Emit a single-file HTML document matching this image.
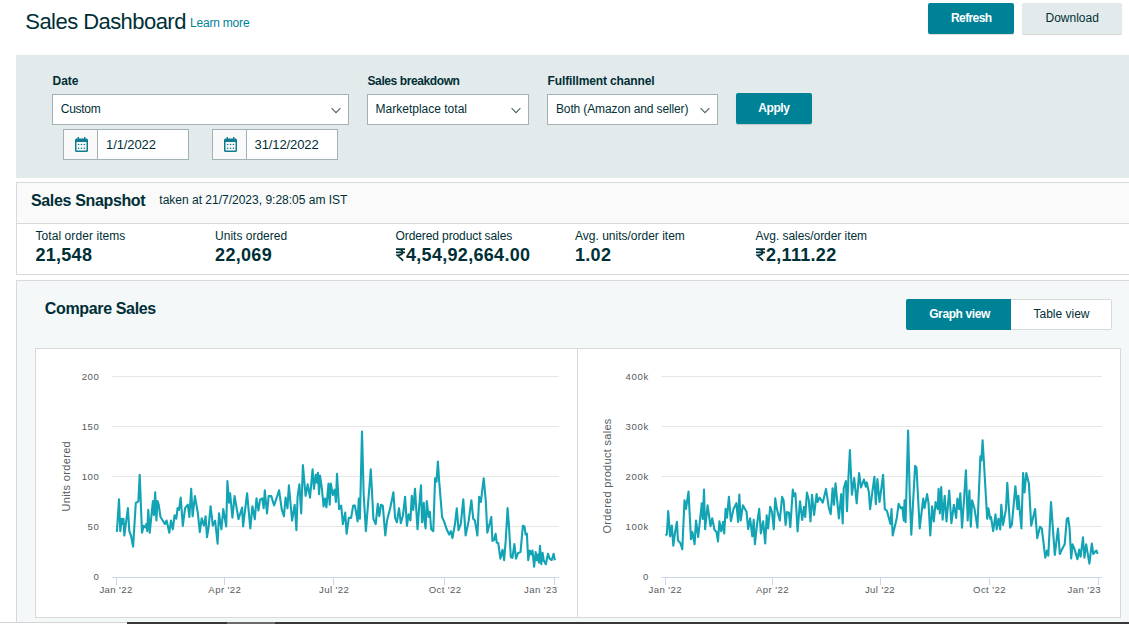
<!DOCTYPE html>
<html><head><meta charset="utf-8">
<style>
html,body{margin:0;padding:0;}
body{width:1129px;height:624px;overflow:hidden;position:relative;background:#fff;font-family:"Liberation Sans",sans-serif;color:#002f36;}
.a{position:absolute;}
.t{position:absolute;white-space:nowrap;line-height:1;}
.b{font-weight:bold;}
.box{position:absolute;box-sizing:border-box;}
.sel{position:absolute;box-sizing:border-box;background:#fff;border:1px solid #a2b1b5;}
.chev{position:absolute;width:5.2px;height:5.2px;border-right:1.1px solid #53676c;border-bottom:1.1px solid #53676c;transform:rotate(45deg);}
.btn{position:absolute;box-sizing:border-box;background:#008296;border-radius:2px;}
.ax{font-size:9.6px;color:#555c5e;letter-spacing:0.65px;}
.yl{width:60px;text-align:right;}

.xl{width:80px;text-align:center;letter-spacing:0.4px;}
</style></head>
<body>
<!-- header -->
<div class="t" style="left:25.3px;top:10.7px;font-size:22px;letter-spacing:-0.55px;">Sales Dashboard</div>
<div class="t" style="left:190px;top:16.7px;font-size:12px;letter-spacing:-0.2px;color:#008296;">Learn more</div>
<div class="btn" style="left:928px;top:3px;width:86px;height:31px;box-shadow:0 1px 1px rgba(0,0,0,0.15);"></div>
<div class="t b" style="left:951px;top:12px;font-size:12px;letter-spacing:-0.6px;color:#fff;">Refresh</div>
<div class="box" style="left:1022px;top:3px;width:100px;height:31px;background:#e3eaeb;border-radius:2px;box-shadow:0 1px 1px rgba(0,0,0,0.18);"></div>
<div class="t" style="left:1045.5px;top:12px;font-size:12px;">Download</div>

<!-- filter panel -->
<div class="box" style="left:16px;top:55px;width:1113px;height:123px;background:#e3eaeb;"></div>
<div class="t b" style="left:52.5px;top:75px;font-size:12px;">Date</div>
<div class="t b" style="left:367.5px;top:75px;font-size:12px;letter-spacing:-0.4px;">Sales breakdown</div>
<div class="t b" style="left:547.5px;top:75px;font-size:12px;letter-spacing:-0.12px;">Fulfillment channel</div>

<div class="sel" style="left:52px;top:94px;width:297px;height:31px;"></div>
<div class="t" style="left:60.8px;top:102.5px;font-size:12px;letter-spacing:-0.3px;">Custom</div>
<svg class="a" style="left:331.1px;top:106px;" width="11" height="9" viewBox="0 0 11 9"><path d="M0.6,2.2 L5,6.6 L9.4,2.2" fill="none" stroke="#4d6065" stroke-width="1.1"/></svg>

<div class="sel" style="left:367px;top:94px;width:162px;height:31px;"></div>
<div class="t" style="left:375.6px;top:102.5px;font-size:12px;">Marketplace total</div>
<svg class="a" style="left:511.4px;top:106px;" width="11" height="9" viewBox="0 0 11 9"><path d="M0.6,2.2 L5,6.6 L9.4,2.2" fill="none" stroke="#4d6065" stroke-width="1.1"/></svg>

<div class="sel" style="left:547px;top:94px;width:171px;height:31px;"></div>
<div class="t" style="left:556px;top:102.5px;font-size:12px;letter-spacing:-0.13px;">Both (Amazon and seller)</div>
<svg class="a" style="left:700.1px;top:106px;" width="11" height="9" viewBox="0 0 11 9"><path d="M0.6,2.2 L5,6.6 L9.4,2.2" fill="none" stroke="#4d6065" stroke-width="1.1"/></svg>

<div class="btn" style="left:736px;top:93px;width:76px;height:31px;box-shadow:0 1px 1px rgba(0,0,0,0.15);"></div>
<div class="t b" style="left:758.3px;top:102.4px;font-size:12px;letter-spacing:-0.45px;color:#fff;">Apply</div>

<!-- date inputs -->
<div class="sel" style="left:63px;top:129px;width:126px;height:31px;"></div>
<div class="a" style="left:64px;top:130px;width:33px;height:29px;background:#f9f9f9;border-right:1px solid #a2b1b5;"></div>
<svg class="a" style="left:74px;top:136px;" width="15" height="17" viewBox="0 0 15 17">
 <rect x="1" y="2.5" width="13" height="13.5" rx="1.5" fill="#0f7b91"/>
 <rect x="2.5" y="6" width="10" height="8.5" fill="#f9f9f9"/>
 <rect x="3.6" y="1" width="1.4" height="3" fill="#0f7b91"/><rect x="10" y="1" width="1.4" height="3" fill="#0f7b91"/>
 <g fill="#0f7b91"><circle cx="4.6" cy="8.5" r="0.8"/><circle cx="7.5" cy="8.5" r="0.8"/><circle cx="10.4" cy="8.5" r="0.8"/><circle cx="4.6" cy="12.2" r="0.8"/><circle cx="7.5" cy="12.2" r="0.8"/><circle cx="10.4" cy="12.2" r="0.8"/></g>
</svg>
<div class="t" style="left:106px;top:138px;font-size:13px;letter-spacing:-0.1px;">1/1/2022</div>

<div class="sel" style="left:212px;top:129px;width:126px;height:31px;"></div>
<div class="a" style="left:213px;top:130px;width:33px;height:29px;background:#f9f9f9;border-right:1px solid #a2b1b5;"></div>
<svg class="a" style="left:223px;top:136px;" width="15" height="17" viewBox="0 0 15 17">
 <rect x="1" y="2.5" width="13" height="13.5" rx="1.5" fill="#0f7b91"/>
 <rect x="2.5" y="6" width="10" height="8.5" fill="#f9f9f9"/>
 <rect x="3.6" y="1" width="1.4" height="3" fill="#0f7b91"/><rect x="10" y="1" width="1.4" height="3" fill="#0f7b91"/>
 <g fill="#0f7b91"><circle cx="4.6" cy="8.5" r="0.8"/><circle cx="7.5" cy="8.5" r="0.8"/><circle cx="10.4" cy="8.5" r="0.8"/><circle cx="4.6" cy="12.2" r="0.8"/><circle cx="7.5" cy="12.2" r="0.8"/><circle cx="10.4" cy="12.2" r="0.8"/></g>
</svg>
<div class="t" style="left:254.5px;top:138px;font-size:13px;letter-spacing:-0.1px;">31/12/2022</div>

<!-- snapshot -->
<div class="box" style="left:16px;top:182px;width:1120px;height:93px;border:1px solid #d9d9d9;background:#fff;"></div>
<div class="box" style="left:17px;top:183px;width:1120px;height:41px;background:#fafafa;border-bottom:1px solid #d9d9d9;"></div>
<div class="t b" style="left:31px;top:192.8px;font-size:16px;letter-spacing:-0.35px;">Sales Snapshot</div>
<div class="t" style="left:159.3px;top:193.9px;font-size:12px;">taken at 21/7/2023, 9:28:05 am IST</div>

<div class="t" style="left:35.4px;top:229.8px;font-size:12px;letter-spacing:0.08px;">Total order items</div>
<div class="t b" style="left:35.4px;top:245.5px;font-size:18px;letter-spacing:0.3px;">21,548</div>
<div class="t" style="left:215.1px;top:229.8px;font-size:12px;">Units ordered</div>
<div class="t b" style="left:215.1px;top:245.5px;font-size:18px;letter-spacing:0.3px;">22,069</div>
<div class="t" style="left:395.5px;top:229.8px;font-size:12px;letter-spacing:-0.1px;">Ordered product sales</div>
<div class="t" style="left:575px;top:229.8px;font-size:12px;">Avg. units/order item</div>
<div class="t b" style="left:575px;top:245.5px;font-size:18px;letter-spacing:0.3px;">1.02</div>
<div class="t" style="left:755.6px;top:229.8px;font-size:12px;letter-spacing:-0.05px;">Avg. sales/order item</div>
<!-- rupee values -->
<svg class="a" style="left:396px;top:248px;" width="10" height="13" viewBox="0 0 10 13"><path d="M0,1.2H9M0,4.3H9M1.6,1.2C5.5,1.2 6.6,2.4 6.6,4.3C6.6,6.3 4.8,7.3 1.2,7.3L7.2,12.6" fill="none" stroke="#002f36" stroke-width="1.7"/></svg>
<div class="t b" style="left:406px;top:245.5px;font-size:18px;letter-spacing:0.3px;">4,54,92,664.00</div>
<svg class="a" style="left:756px;top:248px;" width="10" height="13" viewBox="0 0 10 13"><path d="M0,1.2H9M0,4.3H9M1.6,1.2C5.5,1.2 6.6,2.4 6.6,4.3C6.6,6.3 4.8,7.3 1.2,7.3L7.2,12.6" fill="none" stroke="#002f36" stroke-width="1.7"/></svg>
<div class="t b" style="left:766px;top:245.5px;font-size:18px;letter-spacing:0.3px;">2,111.22</div>

<!-- compare sales -->
<div class="box" style="left:16px;top:280px;width:1120px;height:342px;border:1px solid #d9d9d9;border-bottom:none;background:#f5f8f9;"></div>
<div class="t b" style="left:44.8px;top:300.6px;font-size:16px;letter-spacing:-0.35px;">Compare Sales</div>
<div class="btn" style="left:906px;top:299px;width:105px;height:31px;border-radius:2px 0 0 2px;"></div>
<div class="t b" style="left:929.2px;top:308px;font-size:12px;letter-spacing:-0.4px;color:#fff;">Graph view</div>
<div class="box" style="left:1011px;top:299px;width:101px;height:31px;background:#fff;border:1px solid #d5dbdb;border-left:none;border-radius:0 2px 2px 0;"></div>
<div class="t" style="left:1033.5px;top:308px;font-size:12px;">Table view</div>

<div class="box" style="left:35px;top:348px;width:1086px;height:270px;border:1px solid #d9d9d9;background:#fff;"></div>
<div class="a" style="left:577px;top:349px;width:1px;height:268px;background:#d9d9d9;"></div>

<svg id="charts" class="a" style="left:0;top:0;" width="1129" height="624" viewBox="0 0 1129 624">
 <g stroke="#e6e6e6" stroke-width="1">
  <path d="M112.5,376.5H559M112.5,426.5H559M112.5,476.5H559M112.5,526.5H559"/>
  <path d="M661.5,376.5H1102M661.5,426.5H1102M661.5,476.5H1102M661.5,526.5H1102"/>
 </g>
 <g stroke="#ccd6eb" stroke-width="1">
  <path d="M112.5,577.5H559M661.5,577.5H1102"/>
  <path d="M116.5,577V585M224.5,577V585M333.5,577V585M444.5,577V585M554.5,577V585"/>
  <path d="M665.5,577V585M772.5,577V585M880.5,577V585M989.5,577V585M1098.5,577V585"/>
 </g>
 <g id="lines" fill="none" stroke="#12a3b4" stroke-width="2.1" stroke-linejoin="round">
<path d="M116.9,531.9 L119.0,499.3 L120.3,531.1 L121.7,518.7 L122.6,524.0 L123.5,518.7 L124.3,535.5 L127.9,508.1 L129.3,531.1 L131.0,535.5 L133.1,546.6 L135.8,502.9 L137.6,502.0 L138.4,501.1 L139.7,474.7 L142.0,532.8 L143.7,525.8 L145.5,527.5 L146.4,524.0 L147.2,531.1 L148.3,509.9 L149.7,532.8 L152.9,501.1 L153.9,515.2 L155.2,492.3 L156.4,520.5 L157.5,501.1 L158.7,504.6 L160.5,517.0 L164.9,524.0 L166.6,520.5 L169.3,532.8 L171.0,520.5 L172.8,529.3 L174.6,515.2 L176.3,518.7 L177.6,508.1 L179.0,509.9 L180.7,497.6 L182.8,525.8 L185.1,508.1 L187.8,504.6 L189.4,517.0 L191.2,488.9 L192.6,516.3 L194.9,496.1 L197.8,512.7 L199.8,532.1 L201.7,518.4 L203.9,525.6 L205.6,516.3 L207.0,537.2 L208.6,527.1 L210.6,506.2 L212.8,525.6 L215.1,520.6 L217.6,543.7 L219.0,513.4 L221.4,529.3 L223.3,509.1 L226.2,526.4 L227.4,481.0 L229.1,502.6 L230.1,493.2 L232.4,517.7 L234.6,496.1 L238.5,519.2 L242.1,507.6 L243.1,526.4 L247.1,493.2 L250.3,528.5 L252.4,506.2 L254.8,519.2 L256.5,498.3 L258.4,510.5 L260.1,499.7 L262.3,498.3 L263.7,508.3 L264.8,490.3 L267.0,513.4 L268.7,496.1 L271.3,496.1 L274.1,505.5 L279.1,490.3 L281.7,509.1 L283.9,516.3 L285.6,497.5 L287.5,508.3 L288.9,485.3 L292.1,520.6 L294.7,504.7 L296.4,530.2 L297.6,496.7 L299.4,484.4 L301.2,513.5 L302.9,465.0 L305.6,495.9 L307.7,484.4 L310.0,497.6 L312.6,469.4 L314.0,488.8 L315.8,474.7 L317.0,482.6 L317.9,472.9 L319.1,494.1 L320.0,475.6 L321.8,487.9 L323.6,506.4 L325.0,498.5 L326.4,507.3 L328.5,483.5 L329.7,504.7 L330.8,483.5 L332.9,495.0 L334.7,489.7 L335.9,502.0 L337.0,473.8 L339.1,509.1 L341.2,505.6 L342.9,524.1 L345.2,512.6 L346.6,533.8 L348.8,517.9 L351.1,517.9 L353.2,505.6 L354.9,505.6 L357.6,521.4 L358.8,498.5 L359.9,518.8 L362.0,431.5 L363.7,495.0 L365.9,531.1 L370.8,469.4 L373.4,518.8 L375.7,524.1 L377.8,503.8 L379.3,516.1 L381.0,504.7 L382.8,505.6 L385.3,535.5 L387.0,520.5 L390.2,508.2 L393.4,492.3 L395.1,517.9 L396.9,522.3 L399.0,508.2 L400.8,523.2 L403.0,515.2 L405.1,496.7 L406.9,525.8 L408.6,514.3 L410.4,520.5 L411.8,495.8 L413.2,509.9 L415.0,488.8 L417.5,529.3 L419.2,506.4 L421.0,485.3 L422.0,522.3 L423.8,502.9 L424.5,520.5 L425.6,528.4 L426.8,501.1 L428.6,517.0 L429.8,511.7 L431.2,529.3 L433.3,531.1 L435.1,478.2 L436.5,481.7 L437.9,461.5 L439.1,480.0 L442.1,517.0 L444.4,522.3 L446.7,529.3 L449.2,534.6 L450.9,531.1 L452.4,538.1 L455.0,524.0 L456.8,508.2 L458.5,530.2 L460.8,524.0 L463.3,499.4 L465.6,535.5 L468.6,521.4 L471.4,500.2 L473.2,518.7 L474.9,520.5 L477.4,535.5 L479.2,496.7 L480.9,502.0 L483.7,478.2 L485.8,501.1 L487.3,532.8 L491.3,516.9 L492.4,540.9 L494.0,540.1 L495.6,533.7 L496.7,542.5 L498.3,543.3 L500.4,558.6 L502.5,549.7 L504.1,560.2 L505.7,540.9 L507.6,508.1 L509.2,529.7 L510.8,557.0 L512.4,557.8 L514.4,544.1 L516.0,558.6 L518.1,552.9 L520.5,552.1 L522.9,525.7 L524.5,526.5 L525.6,534.5 L526.9,533.7 L528.2,560.2 L529.8,550.5 L531.4,554.5 L532.5,550.5 L534.1,566.6 L535.7,552.1 L536.8,560.2 L538.1,554.5 L538.9,562.6 L540.0,545.7 L541.3,564.2 L542.6,552.9 L543.7,560.2 L545.8,564.2 L548.0,553.7 L549.6,558.6 L551.7,560.2 L553.6,553.7 L554.9,560.2"/>
<path d="M665.5,535.6 L666.9,534.2 L668.2,511.1 L670.1,536.3 L671.8,525.5 L673.3,545.7 L675.1,532.0 L676.9,521.9 L678.0,540.6 L680.2,542.8 L682.3,549.3 L684.5,500.3 L686.0,508.9 L688.5,491.6 L691.0,539.2 L692.4,532.0 L694.6,544.3 L696.0,520.5 L698.2,537.0 L701.8,503.2 L702.8,519.0 L704.0,489.5 L705.1,529.1 L707.6,505.3 L710.5,526.2 L712.2,518.3 L714.5,529.8 L716.5,532.0 L718.0,541.4 L719.4,521.2 L721.3,531.3 L723.1,521.9 L724.2,533.4 L725.6,508.9 L727.0,517.6 L728.9,496.7 L730.9,521.2 L733.5,508.9 L736.4,503.2 L738.1,521.9 L739.3,494.5 L740.7,520.5 L742.9,505.3 L746.5,511.8 L748.2,529.1 L750.1,518.3 L752.3,536.3 L753.7,519.7 L754.9,544.3 L756.9,525.5 L759.2,508.9 L760.9,533.4 L763.1,521.2 L765.2,543.5 L766.7,515.4 L768.1,528.4 L770.2,506.9 L772.0,512.0 L773.8,529.3 L775.2,498.3 L776.9,509.1 L779.8,520.6 L782.1,496.9 L783.6,500.5 L785.6,525.0 L787.0,512.0 L788.9,512.7 L790.3,527.1 L792.8,489.6 L794.2,496.1 L795.4,493.3 L797.6,531.5 L800.0,501.2 L802.2,519.9 L804.0,506.9 L805.2,517.0 L806.9,492.5 L808.7,499.7 L810.5,521.4 L812.0,494.7 L814.1,514.9 L816.6,494.0 L817.7,501.9 L819.6,497.6 L822.8,502.6 L826.0,488.9 L828.8,507.7 L830.7,514.2 L832.6,488.2 L834.0,504.8 L835.5,483.2 L838.9,518.5 L841.2,494.0 L842.7,523.5 L843.7,488.2 L845.9,481.0 L847.0,511.3 L848.3,480.3 L849.9,450.0 L851.9,494.7 L854.2,478.1 L856.7,503.3 L859.1,473.1 L861.0,487.5 L863.9,479.6 L865.8,486.8 L866.8,482.4 L868.9,492.5 L870.1,509.1 L874.4,476.7 L875.8,504.1 L877.4,479.1 L879.5,502.0 L881.3,488.8 L883.1,474.7 L884.8,509.1 L886.9,510.8 L890.5,524.1 L891.5,509.1 L892.7,535.5 L896.8,517.9 L898.6,503.8 L900.7,508.2 L902.4,507.3 L903.7,520.5 L904.6,500.3 L905.6,522.3 L908.1,430.6 L909.8,496.7 L911.3,534.6 L915.1,465.9 L916.5,467.7 L919.7,528.5 L923.2,498.5 L924.5,508.2 L927.1,494.1 L928.5,502.9 L930.3,535.5 L932.1,506.4 L933.8,521.4 L935.6,502.0 L937.7,509.1 L938.6,488.8 L939.8,513.5 L941.2,487.1 L942.6,519.7 L944.7,495.9 L946.5,521.4 L949.2,490.6 L951.4,523.2 L953.9,504.7 L956.2,517.9 L957.4,498.5 L959.2,509.1 L960.3,493.2 L962.0,527.6 L964.1,498.5 L965.9,470.3 L967.7,520.5 L969.4,490.6 L970.8,526.7 L972.1,500.3 L974.4,508.2 L977.4,527.6 L980.4,456.2 L981.4,460.6 L982.6,440.3 L984.0,463.3 L985.4,488.0 L987.2,518.8 L988.4,508.2 L990.2,518.8 L991.0,517.0 L993.2,531.1 L995.5,514.4 L996.7,529.4 L998.4,518.8 L1000.2,529.4 L1001.3,504.7 L1003.0,525.0 L1006.0,509.1 L1007.3,482.7 L1010.1,527.6 L1011.8,525.0 L1015.4,486.2 L1017.5,509.1 L1018.4,495.9 L1021.4,528.5 L1023.1,473.0 L1024.5,492.4 L1026.3,473.0 L1028.9,483.6 L1031.2,525.8 L1035.1,509.1 L1037.2,538.2 L1040.0,526.7 L1041.8,528.5 L1045.3,557.6 L1047.1,550.5 L1048.3,555.8 L1051.0,502.1 L1052.7,525.8 L1054.8,554.9 L1058.0,528.5 L1059.8,554.0 L1061.9,549.6 L1064.7,544.3 L1066.8,518.8 L1068.2,517.9 L1069.5,527.6 L1071.2,558.4 L1072.6,544.3 L1074.7,549.6 L1077.4,559.3 L1079.2,549.6 L1080.6,556.7 L1083.0,537.3 L1084.4,557.6 L1086.2,544.3 L1089.4,563.7 L1091.8,543.5 L1093.3,554.0 L1094.7,552.3 L1096.4,550.5 L1097.7,554.0"/>
</g>
</svg>
<div id="axl">
<div class="t ax yl" style="left:39.6px;top:372px;">200</div>
<div class="t ax yl" style="left:39.6px;top:422px;">150</div>
<div class="t ax yl" style="left:39.6px;top:472px;">100</div>
<div class="t ax yl" style="left:39.6px;top:522px;">50</div>
<div class="t ax yl" style="left:39.6px;top:572px;">0</div>
<div class="t ax yl" style="left:588.9px;top:372px;">400k</div>
<div class="t ax yl" style="left:588.9px;top:422px;">300k</div>
<div class="t ax yl" style="left:588.9px;top:472px;">200k</div>
<div class="t ax yl" style="left:588.9px;top:522px;">100k</div>
<div class="t ax yl" style="left:588.9px;top:572px;">0</div>
<div class="t ax xl" style="left:76.1px;top:585.3px;">Jan '22</div>
<div class="t ax xl" style="left:184.8px;top:585.3px;">Apr '22</div>
<div class="t ax xl" style="left:294.2px;top:585.3px;">Jul '22</div>
<div class="t ax xl" style="left:405.1px;top:585.3px;">Oct '22</div>
<div class="t ax xl" style="left:477.5px;top:585.3px;text-align:right;">Jan '23</div>
<div class="t ax xl" style="left:625.3px;top:585.3px;">Jan '22</div>
<div class="t ax xl" style="left:732.5px;top:585.3px;">Apr '22</div>
<div class="t ax xl" style="left:840.0px;top:585.3px;">Jul '22</div>
<div class="t ax xl" style="left:949.5px;top:585.3px;">Oct '22</div>
<div class="t ax xl" style="left:1021.0px;top:585.3px;text-align:right;">Jan '23</div>
<div class="t ax" style="left:30.5px;top:471px;width:70px;text-align:center;transform:rotate(-90deg);font-size:11px;letter-spacing:0.35px;">Units ordered</div>
<div class="t ax" style="left:552px;top:472.5px;width:110px;text-align:center;transform:rotate(-90deg);font-size:11px;letter-spacing:0.3px;">Ordered product sales</div>
</div>

<!-- bottom dark bar -->
<div class="a" style="left:0;top:622px;width:127px;height:1px;background:#d4d4d4;"></div>
<div class="a" style="left:127px;top:622px;width:1002px;height:2px;background:#383838;"></div>
<div class="a" style="left:227px;top:622px;width:48px;height:2px;background:#6b6b6b;"></div>
</body></html>
